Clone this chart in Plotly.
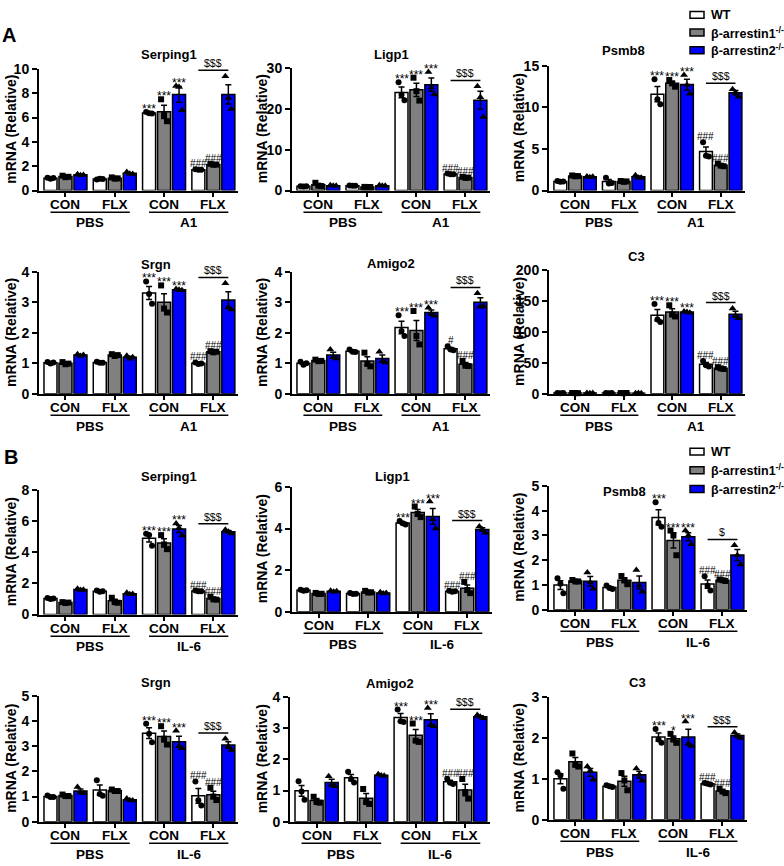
import numpy as np
import plotly.graph_objects as go

# ---------------- data ----------------
GROUP_LABELS = ["CON", "FLX", "CON", "FLX"]
GENOTYPES = ["WT", "β-arrestin1<sup>-/-</sup>", "β-arrestin2<sup>-/-</sup>"]

# individual points per bar; group order: PBS-CON, PBS-FLX, STIM-CON, STIM-FLX
A_SERPING1_WT = [[1.05, 0.98, 1.03], [0.90, 0.98, 0.94], [6.45, 6.35, 6.34], [1.75, 1.70, 1.71]]
A_SERPING1_B1 = [[1.22, 1.10, 1.13], [1.08, 0.98, 1.00], [7.50, 6.20, 5.70], [2.20, 2.12, 2.13]]
A_SERPING1_B2 = [[1.35, 1.25, 1.27], [1.52, 1.38, 1.36], [8.60, 8.50, 6.60], [9.40, 7.60, 6.70]]

A_LIGP1_WT = [[1.05, 0.98, 1.06], [1.25, 1.15, 1.20], [26.5, 23.4, 22.1], [4.15, 4.00, 4.00]]
A_LIGP1_B1 = [[1.90, 1.20, 1.10], [0.90, 0.85, 0.86], [27.6, 24.3, 22.0], [3.35, 3.10, 3.15]]
A_LIGP1_B2 = [[1.30, 1.15, 1.15], [1.30, 1.15, 1.15], [29.0, 25.2, 23.5], [25.5, 22.8, 18.0]]

A_PSMB8_WT = [[1.15, 1.05, 1.10], [1.55, 0.85, 0.90], [13.4, 11.0, 10.4], [5.80, 4.20, 4.10]]
A_PSMB8_B1 = [[1.82, 1.72, 1.74], [1.15, 1.05, 1.10], [13.3, 12.9, 12.5], [3.25, 3.00, 2.93]]
A_PSMB8_B2 = [[1.70, 1.60, 1.65], [1.85, 1.55, 1.55], [13.9, 12.7, 11.65], [12.2, 11.8, 11.3]]

A_SRGN_WT = [[1.04, 0.99, 1.03], [1.05, 1.02, 1.02], [3.69, 3.28, 2.96], [1.03, 0.98, 0.99]]
A_SRGN_B1 = [[1.04, 0.97, 0.99], [1.30, 1.24, 1.27], [3.56, 2.80, 2.67], [1.40, 1.36, 1.38]]
A_SRGN_B2 = [[1.30, 1.24, 1.27], [1.25, 1.15, 1.20], [3.44, 3.42, 3.40], [3.63, 2.84, 2.77]]

A_AMIGO2_WT = [[1.05, 0.95, 1.00], [1.45, 1.38, 1.37], [2.58, 2.06, 1.90], [1.56, 1.45, 1.43]]
A_AMIGO2_B1 = [[1.12, 1.07, 1.08], [1.35, 0.98, 0.90], [2.72, 1.90, 1.62], [1.08, 0.92, 0.91]]
A_AMIGO2_B2 = [[1.45, 1.20, 1.16], [1.38, 1.07, 1.03], [2.83, 2.62, 2.56], [3.30, 2.86, 2.87]]

A_C3_WT = [[1.1, 0.9, 1.0], [1.0, 0.95, 1.05], [145, 120, 116], [53, 46, 44]]
A_C3_B1 = [[1.2, 1.0, 0.9], [1.1, 0.9, 1.2], [143, 128, 125], [43, 41, 40]]
A_C3_B2 = [[1.0, 0.9, 1.1], [0.9, 1.0, 0.95], [133, 132, 131], [138, 126, 122]]

B_SERPING1_WT = [[1.06, 1.00, 1.03], [1.54, 1.47, 1.49], [5.18, 5.10, 4.42], [1.54, 1.50, 1.49]]
B_SERPING1_B1 = [[0.80, 0.74, 0.77], [1.08, 0.80, 0.76], [5.10, 4.50, 4.20], [1.15, 0.98, 0.96]]
B_SERPING1_B2 = [[1.65, 1.58, 1.60], [1.40, 1.30, 1.32], [5.85, 5.55, 5.07], [5.45, 5.32, 5.20]]

B_LIGP1_WT = [[1.05, 1.01, 1.03], [0.90, 0.85, 0.86], [4.36, 4.26, 4.19], [1.00, 0.96, 0.98]]
B_LIGP1_B1 = [[0.90, 0.85, 0.86], [1.00, 0.92, 0.93], [5.06, 4.70, 4.55], [1.43, 1.04, 0.89]]
B_LIGP1_B2 = [[1.00, 0.96, 0.98], [0.93, 0.87, 0.90], [5.30, 4.45, 4.00], [4.10, 3.95, 3.80]]

B_PSMB8_WT = [[1.27, 1.05, 0.66], [0.98, 0.88, 0.84], [4.34, 3.50, 3.35], [1.35, 0.97, 0.78]]
B_PSMB8_B1 = [[1.20, 1.14, 1.14], [1.36, 1.19, 1.03], [3.20, 3.00, 2.20], [1.22, 1.19, 1.16]]
B_PSMB8_B2 = [[1.50, 1.10, 0.85], [1.60, 0.98, 0.72], [3.20, 3.00, 2.65], [2.60, 2.20, 1.83]]

B_SRGN_WT = [[1.04, 0.98, 0.98], [1.65, 1.10, 1.03], [3.90, 3.50, 3.16], [1.60, 0.85, 0.64]]
B_SRGN_B1 = [[1.08, 1.02, 1.02], [1.28, 1.22, 1.22], [3.80, 3.30, 3.07], [1.35, 1.00, 0.86]]
B_SRGN_B2 = [[1.38, 1.15, 1.13], [0.92, 0.85, 0.84], [3.62, 3.00, 2.92], [3.30, 3.00, 2.85]]

B_AMIGO2_WT = [[1.30, 0.97, 0.70], [1.60, 1.37, 1.26], [3.60, 3.22, 3.20], [1.38, 1.25, 1.21]]
B_AMIGO2_B1 = [[0.80, 0.63, 0.61], [1.05, 0.63, 0.57], [3.15, 2.60, 2.56], [1.37, 0.95, 0.74]]
B_AMIGO2_B2 = [[1.46, 1.18, 1.14], [1.52, 1.48, 1.47], [3.65, 3.10, 3.06], [3.42, 3.37, 3.32]]

B_C3_WT = [[1.16, 1.08, 0.76], [0.84, 0.82, 0.80], [2.22, 1.96, 1.88], [0.90, 0.88, 0.86]]
B_C3_B1 = [[1.62, 1.34, 1.30], [1.14, 0.96, 0.72], [2.10, 1.96, 1.88], [0.76, 0.69, 0.65]]
B_C3_B2 = [[1.30, 1.20, 0.98], [1.25, 1.10, 0.95], [2.40, 1.86, 1.80], [2.13, 2.05, 2.00]]

# significance labels (stim-CON bars vs PBS; stim-FLX bars vs CON; bracket)
SIG_CON_STD = ["***", "***", "***"]
SIG_CON_B_C3 = ["***", "*", "***"]
SIG_FLX_STD = ["###", "###", ""]
SIG_FLX_A_AMIGO2 = ["#", "###", ""]
BRACKET_STD = "$$$"
BRACKET_B_PSMB8 = "$"

PANELS = [
    ("Serping1", A_SERPING1_WT, A_SERPING1_B1, A_SERPING1_B2, 10, 2, "A1", SIG_CON_STD, SIG_FLX_STD, BRACKET_STD),
    ("Ligp1", A_LIGP1_WT, A_LIGP1_B1, A_LIGP1_B2, 30, 10, "A1", SIG_CON_STD, SIG_FLX_STD, BRACKET_STD),
    ("Psmb8", A_PSMB8_WT, A_PSMB8_B1, A_PSMB8_B2, 15, 5, "A1", SIG_CON_STD, SIG_FLX_STD, BRACKET_STD),
    ("Srgn", A_SRGN_WT, A_SRGN_B1, A_SRGN_B2, 4, 1, "A1", SIG_CON_STD, SIG_FLX_STD, BRACKET_STD),
    ("Amigo2", A_AMIGO2_WT, A_AMIGO2_B1, A_AMIGO2_B2, 4, 1, "A1", SIG_CON_STD, SIG_FLX_A_AMIGO2, BRACKET_STD),
    ("C3", A_C3_WT, A_C3_B1, A_C3_B2, 200, 50, "A1", SIG_CON_STD, SIG_FLX_STD, BRACKET_STD),
    ("Serping1", B_SERPING1_WT, B_SERPING1_B1, B_SERPING1_B2, 8, 2, "IL-6", SIG_CON_STD, SIG_FLX_STD, BRACKET_STD),
    ("Ligp1", B_LIGP1_WT, B_LIGP1_B1, B_LIGP1_B2, 6, 2, "IL-6", SIG_CON_STD, SIG_FLX_STD, BRACKET_STD),
    ("Psmb8", B_PSMB8_WT, B_PSMB8_B1, B_PSMB8_B2, 5, 1, "IL-6", SIG_CON_STD, SIG_FLX_STD, BRACKET_B_PSMB8),
    ("Srgn", B_SRGN_WT, B_SRGN_B1, B_SRGN_B2, 5, 1, "IL-6", SIG_CON_STD, SIG_FLX_STD, BRACKET_STD),
    ("Amigo2", B_AMIGO2_WT, B_AMIGO2_B1, B_AMIGO2_B2, 4, 1, "IL-6", SIG_CON_STD, SIG_FLX_STD, BRACKET_STD),
    ("C3", B_C3_WT, B_C3_B1, B_C3_B2, 3, 1, "IL-6", SIG_CON_B_C3, SIG_FLX_STD, BRACKET_STD),
]

# ---------------- layout geometry (pixels) ----------------
W, H = 784, 866
# x0, x1, ytop, ybottom, title_y, ytitle_x
GEOM = [
    (39, 238, 62, 186, 47, 11), (292, 490, 61, 186, 47, 262), (549, 745, 59, 186, 43, 519),
    (39, 238, 269, 393, 261, 11), (292, 490, 269, 393, 260, 262), (549, 745, 267, 393, 253, 519),
    (39, 238, 491, 618, 477, 11), (292, 492, 488, 615, 477, 262), (549, 747, 487, 613, 493, 519),
    (39, 238, 701, 829, 687, 11), (290, 490, 702, 829, 688, 262), (549, 747, 702, 827, 687, 519),
]
FONT = "Liberation Sans, Arial, sans-serif"
COLORS = ["#ffffff", "#808080", "#0000ff"]
SYMBOLS = ["circle", "square", "triangle-up"]
STEP = 0.304
BW = 0.264
JIT = np.array([-0.06, 0.0, 0.06])


def px_x(p):
    return p / W


def px_y(p):
    return 1 - p / H


def bfont(size, bold=True):
    return dict(family=FONT, size=size, color="black", weight="bold" if bold else "normal")


def safe(txt):
    # avoid LaTeX interpretation of strings wrapped in "$"
    return txt.replace("$", "&#36;")


fig = go.Figure()
annotations = []
shapes = []
layout_axes = {}

for i, (title, wt, b1, b2, ymax, dtick, stim, sig_con, sig_flx, bracket) in enumerate(PANELS):
    x0, x1, yt, yb, ty, ytx = GEOM[i]
    xa, ya = f"x{i + 1}", f"y{i + 1}"
    hpx = yb - yt
    layout_axes[f"xaxis{i + 1}"] = dict(
        domain=[px_x(x0), px_x(x1)], range=[-0.537, 3.5], anchor=ya,
        tickvals=[0, 1, 2, 3], showticklabels=False,
        showline=True, linecolor="black", linewidth=2, ticks="outside", ticklen=4,
        tickwidth=1.5, tickcolor="black", showgrid=False, zeroline=False, fixedrange=True,
    )
    layout_axes[f"yaxis{i + 1}"] = dict(
        domain=[px_y(yb), px_y(yt)], range=[0, ymax], anchor=xa, tick0=0, dtick=dtick,
        tickfont=bfont(14), showline=True, linecolor="black", linewidth=2, ticks="outside",
        ticklen=5, tickwidth=1.5, tickcolor="black", showgrid=False, zeroline=False, fixedrange=True,
    )
    tops = []
    for k, series in enumerate([wt, b1, b2]):
        pts = np.array(series, dtype=float)
        mean = pts.mean(axis=1)
        sem = pts.std(axis=1, ddof=1) / np.sqrt(pts.shape[1])
        xs = np.arange(4) + (k - 1) * STEP
        fig.add_trace(go.Bar(
            x=xs, y=mean, width=BW, xaxis=xa, yaxis=ya, showlegend=False,
            marker=dict(color=COLORS[k], line=dict(color="black", width=1.5)),
            error_y=dict(type="data", array=sem, visible=True, color="black", thickness=1.5, width=3),
        ))
        px_pts = (xs[:, None] + JIT[None, :]).ravel()
        fig.add_trace(go.Scatter(
            x=px_pts, y=pts.ravel(), mode="markers", xaxis=xa, yaxis=ya, showlegend=False,
            cliponaxis=False,
            marker=dict(symbol=SYMBOLS[k], color="black", size=6 if k < 2 else 7, line=dict(width=0)),
        ))
        tops.append(np.maximum(mean + sem, pts.max(axis=1)))
    tops = np.array(tops)  # [genotype, group]
    # x category labels
    for g, lab in enumerate(GROUP_LABELS):
        annotations.append(dict(x=g, y=px_y(yb + 14), xref=xa, yref="paper", text=lab,
                                showarrow=False, yanchor="middle", font=bfont(13.5)))
    # significance labels
    for g, labels in ((2, sig_con), (3, sig_flx)):
        for k, lab in enumerate(labels):
            if not lab:
                continue
            star = lab.startswith("*")
            annotations.append(dict(
                x=g + (k - 1) * STEP, y=tops[k, g], xref=xa, yref=ya, text=lab, showarrow=False,
                yanchor="bottom", yshift=-6 if star else -2, font=bfont(12 if star else 10, False),
            ))
    # bracket
    ly = tops[:, 3].max() + 6 * ymax / hpx
    shapes.append(dict(type="line", xref=xa, yref=ya, x0=3 - STEP, x1=3 + STEP, y0=ly, y1=ly,
                       line=dict(color="black", width=1.5)))
    annotations.append(dict(x=3, y=ly, xref=xa, yref=ya, text=safe(bracket), showarrow=False,
                            yanchor="bottom", yshift=-1, font=bfont(10.5, False)))
    # group underlines and labels
    for gc, lab in ((0.5, "PBS"), (2.5, stim)):
        shapes.append(dict(type="line", xref=xa, yref="paper", x0=gc - 0.5 - STEP, x1=gc + 0.5 + STEP,
                           y0=px_y(yb + 22), y1=px_y(yb + 22), line=dict(color="black", width=1.5)))
        annotations.append(dict(x=gc, y=px_y(yb + 33), xref=xa, yref="paper", text=lab,
                                showarrow=False, yanchor="middle", font=bfont(13.5)))
    # title
    annotations.append(dict(x=px_x((x0 + x1) / 2), y=px_y(ty), xref="paper", yref="paper", text=title,
                            showarrow=False, yanchor="middle", font=bfont(13)))
    # y axis title
    annotations.append(dict(x=px_x(ytx), y=px_y((yt + yb) / 2), xref="paper", yref="paper",
                            text="mRNA (Relative)", textangle=-90, showarrow=False,
                            xanchor="center", yanchor="middle", font=bfont(14)))

# panel letters
for lab, (lx, ly) in (("A", (9, 27)), ("B", (11, 457))):
    annotations.append(dict(x=px_x(lx), y=px_y(ly), xref="paper", yref="paper", text=lab,
                            showarrow=False, xanchor="center", yanchor="middle", font=bfont(20)))

# legends (drawn manually)
for rows in ((7, 25, 43), (452, 471, 490)):
    for k, ry in enumerate(rows):
        shapes.append(dict(type="rect", xref="paper", yref="paper", x0=px_x(690), x1=px_x(704),
                           y0=px_y(ry + 3.5), y1=px_y(ry - 3.5), fillcolor=COLORS[k],
                           line=dict(color="black", width=1.5)))
        annotations.append(dict(x=px_x(709), y=px_y(ry), xref="paper", yref="paper", text=GENOTYPES[k],
                                showarrow=False, xanchor="left", yanchor="middle", font=bfont(12.5)))

fig.update_layout(
    width=W, height=H, margin=dict(l=0, r=0, t=0, b=0), autosize=False,
    paper_bgcolor="white", plot_bgcolor="white", barmode="overlay", showlegend=False,
    annotations=annotations, shapes=shapes, **layout_axes,
)

fig.write_html("out.html", config={"displayModeBar": False},
               post_script="document.body.style.margin='0';")
